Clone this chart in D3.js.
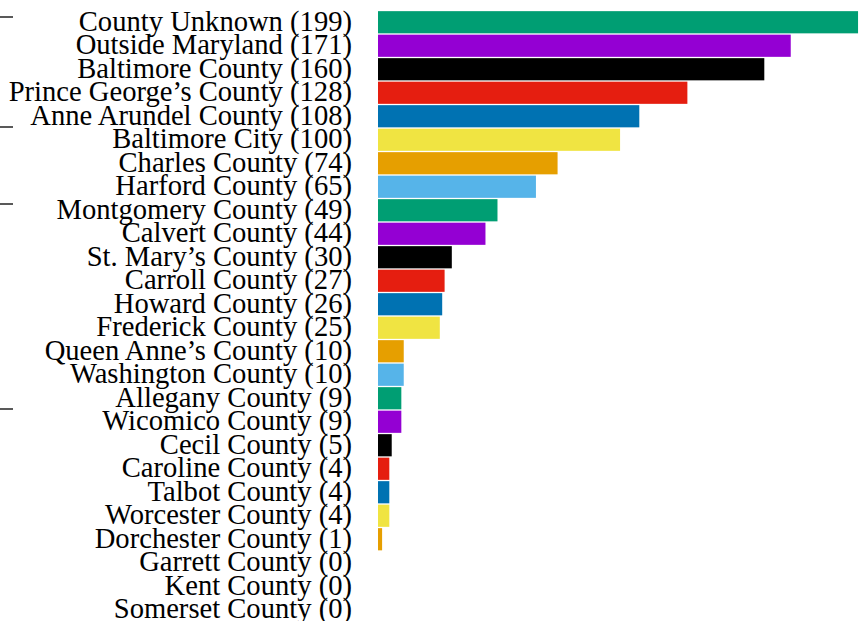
<!DOCTYPE html>
<html>
<head>
<meta charset="utf-8">
<script src="https://cdn.jsdelivr.net/npm/d3@7"></script>
<style>
  body { margin: 0; background: #fff; }
</style>
</head>
<body>
<div id="chart-area"></div>
<script>
// counties and their counts, top to bottom
var counties = ["County Unknown", "Outside Maryland", "Baltimore County", "Prince George\u2019s County",
  "Anne Arundel County", "Baltimore City", "Charles County", "Harford County", "Montgomery County",
  "Calvert County", "St. Mary\u2019s County", "Carroll County", "Howard County", "Frederick County",
  "Queen Anne\u2019s County", "Washington County", "Allegany County", "Wicomico County", "Cecil County",
  "Caroline County", "Talbot County", "Worcester County", "Dorchester County", "Garrett County",
  "Kent County", "Somerset County"];
var counts = [199, 171, 160, 128, 108, 100, 74, 65, 49, 44, 30, 27, 26, 25, 10, 10, 9, 9, 5, 4, 4, 4, 1, 0, 0, 0];
var palette = ["#009e73", "#9400d3", "#000000", "#e51e10", "#0072b2", "#f0e442", "#e69f00", "#56b4e9"];

// stray tick stubs at the left edge of the picture
var stubY = [17, 127, 204, 409];

var width = 868, height = 621;

var svg = d3.select("#chart-area")
  .append("svg")
    .attr("width", width)
    .attr("height", height);

var list = counties.map(function(c, i){ return {name: c, value: counts[i], idx: i}; });

var x = d3.scaleLinear()
  .domain([0, 199])
  .range([378.85, 857.2]);

var y = d3.scaleBand()
  .domain(list.map(function(d){ return d.name; }))
  .range([10.5, 621.5])
  .paddingInner(0.128)
  .paddingOuter(0.064);

// bars (zero counts draw nothing)
svg.selectAll("rect.bar")
  .data(list.filter(function(d){ return d.value > 0; }))
  .enter()
  .append("rect")
    .attr("class", "bar")
    .attr("x", x(0))
    .attr("y", function(d){ return y(d.name); })
    .attr("width", function(d){ return x(d.value) - x(0); })
    .attr("height", y.bandwidth())
    .attr("fill", function(d){ return palette[d.idx % palette.length]; })
    .attr("stroke", function(d){ return palette[d.idx % palette.length]; })
    .attr("stroke-width", 1.7);

// labels
svg.selectAll("text.label")
  .data(list)
  .enter()
  .append("text")
    .attr("class", "label")
    .attr("x", 352)
    .attr("y", function(d){ return y(d.name) + y.bandwidth() / 2; })
    .attr("dy", "0.29em")
    .attr("text-anchor", "end")
    .attr("font-family", "'Liberation Serif', 'Times New Roman', serif")
    .attr("font-size", "28.6px")
    .attr("fill", "#000")
    .text(function(d){ return d.name + " (" + d.value + ")"; });

svg.selectAll("line.stub")
  .data(stubY)
  .enter()
  .append("line")
    .attr("class", "stub")
    .attr("x1", 0)
    .attr("x2", 13)
    .attr("y1", function(d){ return d; })
    .attr("y2", function(d){ return d; })
    .attr("stroke", "#222")
    .attr("stroke-width", 1.5);
</script>
</body>
</html>
